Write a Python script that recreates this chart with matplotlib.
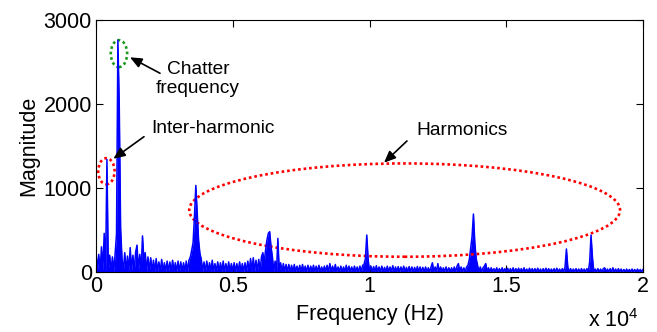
import numpy as np
import matplotlib
matplotlib.use('Agg')
import matplotlib.pyplot as plt
from matplotlib.patches import Ellipse

plt.rcParams['font.family'] = 'Liberation Sans'
plt.rcParams['mathtext.fontset'] = 'custom'
plt.rcParams['mathtext.rm'] = 'Liberation Sans'
plt.rcParams['mathtext.default'] = 'regular'

# spectrum magnitude, one value every 50 Hz (each row = 1000 Hz)
freq_step = 50
magnitude = [
    240, 10, 210, 8, 300, 15, 460, 12, 1340, 20, 200, 10, 180, 8, 220, 450, 2760, 1990, 520, 160,
    10, 230, 12, 190, 8, 290, 15, 200, 10, 240, 320, 12, 210, 10, 430, 150, 230, 8, 180, 10,
    170, 6, 140, 4, 160, 8, 120, 3, 150, 6, 110, 4, 130, 6, 120, 3, 140, 8, 110, 4,
    130, 6, 120, 4, 110, 6, 130, 8, 140, 180, 260, 350, 660, 1030, 700, 380, 220, 150, 8, 120,
    6, 130, 4, 110, 6, 140, 4, 100, 6, 120, 4, 110, 3, 130, 6, 100, 4, 120, 6, 100,
    4, 110, 6, 100, 4, 120, 6, 100, 4, 110, 6, 130, 8, 160, 10, 170, 8, 140, 10, 150,
    10, 180, 230, 120, 260, 380, 460, 480, 300, 180, 8, 130, 6, 400, 6, 110, 4, 100, 6, 90,
    4, 90, 3, 80, 4, 90, 3, 70, 4, 80, 3, 90, 4, 70, 3, 80, 4, 70, 3, 80,
    3, 70, 4, 80, 3, 60, 4, 70, 3, 80, 4, 100, 3, 70, 4, 90, 3, 60, 4, 70,
    3, 60, 4, 80, 3, 70, 4, 60, 3, 70, 4, 60, 3, 70, 4, 80, 90, 160, 440, 150,
    4, 70, 3, 65, 4, 75, 3, 60, 4, 70, 3, 55, 4, 70, 2, 60, 4, 75, 3, 60,
    3, 65, 2, 60, 4, 70, 3, 55, 3, 65, 2, 60, 4, 55, 3, 65, 3, 60, 2, 55,
    3, 60, 4, 50, 3, 60, 110, 5, 60, 3, 100, 4, 60, 3, 50, 4, 60, 3, 50, 4,
    50, 3, 60, 4, 70, 100, 5, 60, 3, 50, 4, 60, 80, 150, 280, 420, 690, 350, 160, 80,
    5, 60, 3, 50, 70, 100, 4, 50, 3, 50, 4, 40, 3, 50, 3, 40, 4, 50, 3, 40,
    3, 45, 2, 40, 3, 50, 2, 40, 3, 45, 2, 40, 3, 50, 2, 35, 3, 45, 2, 40,
    2, 40, 3, 45, 2, 35, 3, 40, 2, 45, 2, 40, 3, 35, 2, 40, 2, 45, 2, 35,
    3, 40, 2, 60, 274, 60, 2, 40, 2, 35, 2, 40, 3, 35, 2, 40, 2, 35, 2, 40,
    2, 120, 440, 180, 5, 35, 2, 40, 2, 35, 2, 40, 50, 3, 35, 2, 40, 2, 50, 3,
    35, 2, 40, 2, 35, 2, 30, 2, 35, 2, 30, 2, 35, 2, 30, 2, 35, 2, 30, 2,
    30,
]
freq = np.arange(len(magnitude)) * freq_step

x_ticks = [0, 5000, 10000, 15000, 20000]
x_tick_labels = ['0', '0.5', '1', '1.5', '2']
y_ticks = [0, 1000, 2000, 3000]

fig = plt.figure(figsize=(6.57, 3.32), dpi=100)
ax = fig.add_axes([96/657, 60/332, 547/657, 252/332])

# the dense spectrum reads as a solid band, so fill under the trace too
ax.fill_between(freq, 0, magnitude, color='blue', lw=0)
ax.plot(freq, magnitude, color='blue', lw=1.1)

ax.set_xlim(0, 20000)
ax.set_ylim(0, 3000)
ax.set_xticks(x_ticks)
ax.set_xticklabels(x_tick_labels)
ax.set_yticks(y_ticks)
ax.tick_params(direction='in', length=5, width=0.8, top=True, right=True,
               labelsize=15.5, pad=3)
for s in ax.spines.values():
    s.set_linewidth(0.8)

ax.set_xlabel('Frequency (Hz)', fontsize=15.5, labelpad=5)
ax.set_ylabel('Magnitude', fontsize=15.5, labelpad=3)
ax.text(0.8995, -0.22, 'x 10$^4$', transform=ax.transAxes, fontsize=15.5,
        ha='left', va='baseline')

dots = (0, (1, 1.1))
ax.add_patch(Ellipse((840, 2600), 600, 320, fill=False, edgecolor=(0.1, 0.6, 0.1),
                     lw=1.9, linestyle=dots))
ax.add_patch(Ellipse((380, 1200), 600, 310, fill=False, edgecolor='red',
                     lw=1.9, linestyle=dots))
ax.add_patch(Ellipse((11285, 737), 15750, 1111, fill=False, edgecolor='red',
                     lw=1.9, linestyle=dots))

arrow = dict(arrowstyle='-|>,head_length=0.7,head_width=0.3', color='black',
             lw=1.2, shrinkA=0, shrinkB=0, mutation_scale=10)
ax.annotate('', xy=(1243, 2556), xytext=(2340, 2366), arrowprops=arrow)
ax.annotate('', xy=(633, 1348), xytext=(1755, 1611), arrowprops=arrow)
ax.annotate('', xy=(10530, 1301), xytext=(11370, 1560), arrowprops=arrow)

ax.text(3730, 2298, 'Chatter\nfrequency', fontsize=13.8, ha='center', va='center',
        multialignment='center', linespacing=1.1)
ax.text(4278, 1714, 'Inter-harmonic', fontsize=13.8, ha='center', va='center')
ax.text(13381, 1679, 'Harmonics', fontsize=13.8, ha='center', va='center')

fig.savefig('out.png', dpi=100)
